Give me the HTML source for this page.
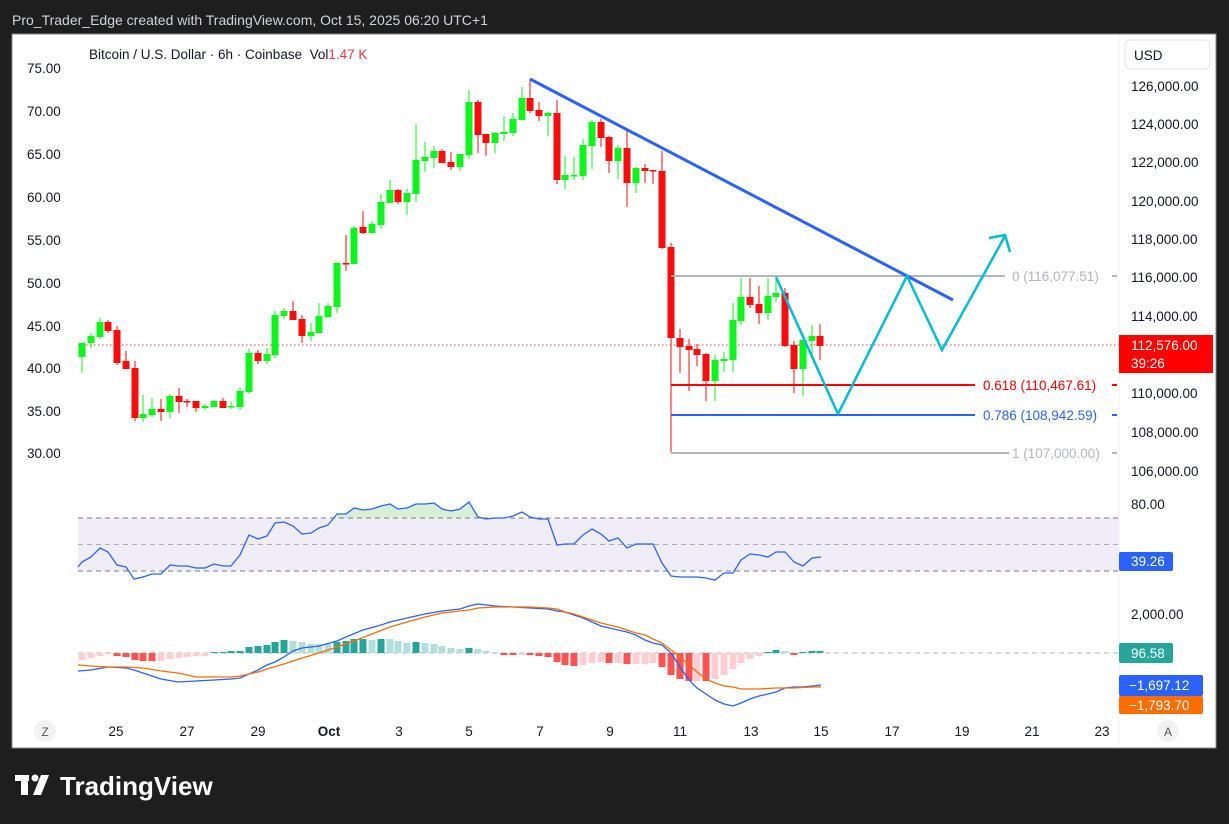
<!DOCTYPE html>
<html><head><meta charset="utf-8"><style>
html,body{margin:0;padding:0;background:#1e1e1e;}
svg{display:block;font-family:"Liberation Sans",sans-serif;}
</style></head><body>
<svg id="s" width="1229" height="824" xmlns="http://www.w3.org/2000/svg">
<rect width="1229" height="824" fill="#1e1e1e"/>
<text x="12" y="25" fill="#d1d4dc" font-size="14">Pro_Trader_Edge created with TradingView.com, Oct 15, 2025 06:20 UTC+1</text>
<rect x="12" y="34" width="1204" height="714" fill="#fff" stroke="#888" stroke-width="1"/>
<line x1="1119" y1="35" x2="1119" y2="747" stroke="#f0f0f0"/>
<text x="89" y="59" fill="#131722" font-size="13.5">Bitcoin / U.S. Dollar · 6h · Coinbase&#160;&#160;Vol<tspan fill="#f23645">1.47 K</tspan></text>
<rect x="1125" y="40" width="85" height="29" rx="5" fill="#fff" stroke="#e0e3eb"/>
<text x="1134" y="60" font-size="13.5" fill="#131722">USD</text>
<g font-size="13.5" fill="#131722">
<text x="27" y="73">75.00</text><text x="27" y="116">70.00</text><text x="27" y="159">65.00</text>
<text x="27" y="202">60.00</text><text x="27" y="245">55.00</text><text x="27" y="288">50.00</text>
<text x="27" y="331">45.00</text><text x="27" y="373">40.00</text><text x="27" y="416">35.00</text>
<text x="27" y="458">30.00</text>
<text x="1131" y="91">126,000.00</text><text x="1131" y="129">124,000.00</text><text x="1131" y="167">122,000.00</text>
<text x="1131" y="206">120,000.00</text><text x="1131" y="244">118,000.00</text><text x="1131" y="282">116,000.00</text>
<text x="1131" y="321">114,000.00</text><text x="1131" y="398">110,000.00</text><text x="1131" y="437">108,000.00</text>
<text x="1131" y="476">106,000.00</text>
<text x="1131" y="509">80.00</text>
<text x="1131" y="619">2,000.00</text>
</g>
<rect x="78" y="518" width="1041" height="53" fill="#ede9f7" opacity="0.85"/>
<polygon points="337,518 337,514 346,514 354,508 363,510 372,509 381,506 390,504 398,509 407,508 416,504 425,504 434,503 442,509 451,511 460,509 469,502 478,517 478,518" fill="#d6f0d6"/>
<line x1="78" y1="518" x2="1119" y2="518" stroke="#787b86" stroke-dasharray="5,4"/>
<line x1="78" y1="544.5" x2="1119" y2="544.5" stroke="#b0b0b8" stroke-dasharray="5,4"/>
<line x1="78" y1="571" x2="1119" y2="571" stroke="#787b86" stroke-dasharray="5,4"/>
<polyline fill="none" stroke="#2962ff" stroke-width="1.3" points="78,567 82,562 91,557 100,548 108,552 117,565 126,567 134,579 143,577 152,574 161,574 170,565 179,566 187,566 196,568 205,568 214,564 223,566 231,566 240,555 249,535 258,539 267,536 275,523 284,522 293,526 302,534 311,533 319,528 328,525 337,514 346,514 354,508 363,510 372,509 381,506 390,504 398,509 407,508 416,504 425,504 434,503 442,509 451,511 460,509 469,502 478,517 486,519 495,518 504,518 513,516 522,512 530,517 539,519 548,519 557,545 565,544 574,544 583,535 592,529 601,534 609,541 618,538 627,548 636,544 645,544 653,544 662,563 671,576 680,577 689,577 697,577 706,578 715,580 724,573 733,573 741,560 750,554 759,555 768,557 776,552 785,552 794,562 803,566 812,558 821,557"/>
<line x1="78" y1="653" x2="1119" y2="653" stroke="#b2b5be" stroke-dasharray="5,4"/>
<g id="hist"></g>
<polyline fill="none" stroke="#2962ff" stroke-width="1.3" points="78,671 91,670 108,667 126,668 134,670 143,673 161,679 178,682 196,681 214,680 231,679 240,678 249,674 258,670 267,665 275,662 284,657 293,651 302,648 319,646 337,641 346,637 363,630 381,625 390,622 407,618 425,614 442,611 460,609 469,606 478,604 495,606 513,607 530,608 548,609 557,611 565,612 574,615 583,618 592,622 601,626 618,630 627,632 636,635 645,640 653,643 662,645 671,653 680,667 689,680 697,688 706,694 715,700 724,704 733,706 741,703 750,699 759,696 768,694 776,692 785,688 794,687 803,687 812,686 821,685"/>
<polyline fill="none" stroke="#ff6d00" stroke-width="1.3" points="78,665 91,666 108,667 126,667 143,668 161,671 178,673 196,677 214,677 231,677 240,676 249,674 258,672 267,669 284,664 302,658 319,653 337,647 354,641 372,634 390,627 407,622 425,617 442,613 460,611 469,610 478,608 495,607 513,607 530,607 548,608 557,609 565,612 574,614 583,617 592,620 601,623 609,625 618,627 627,630 636,633 645,635 653,639 662,643 671,650 680,657 689,665 697,672 706,679 715,683 724,686 733,687 741,689 759,689 776,688 794,688 812,687 821,687"/>
<line x1="78" y1="345" x2="1119" y2="345" stroke="#f23645" stroke-dasharray="1.5,2.5"/>
<g id="candles"></g>
<line x1="671" y1="276" x2="1005" y2="276" stroke="#b2b5be" stroke-width="2"/>
<line x1="671" y1="385" x2="975" y2="385" stroke="#f00" stroke-width="2"/>
<line x1="671" y1="415" x2="975" y2="415" stroke="#2962ff" stroke-width="2"/>
<line x1="671" y1="453" x2="1005" y2="453" stroke="#b2b5be" stroke-width="2"/>
<g font-size="13.5">
<text x="1012" y="281" fill="#b2b5be">0 (116,077.51)</text><line x1="1112" y1="276" x2="1117" y2="276" stroke="#b2b5be" stroke-width="2"/>
<text x="983" y="390" fill="#f00">0.618 (110,467.61)</text><line x1="1112" y1="385" x2="1117" y2="385" stroke="#f00" stroke-width="2"/>
<text x="983" y="420" fill="#2962ff">0.786 (108,942.59)</text><line x1="1112" y1="415" x2="1117" y2="415" stroke="#2962ff" stroke-width="2"/>
<line x1="1004" y1="453" x2="1009" y2="453" stroke="#b2b5be" stroke-width="2"/>
<text x="1012" y="458" fill="#b2b5be">1 (107,000.00)</text><line x1="1112" y1="453" x2="1117" y2="453" stroke="#b2b5be" stroke-width="2"/>
</g>
<line x1="530" y1="79" x2="953" y2="300" stroke="#2962ff" stroke-width="3"/>
<polyline fill="none" stroke="#00bcd4" stroke-width="2.5" points="776,277 838,414 907,276 942,350 1005,236"/>
<polyline fill="none" stroke="#00bcd4" stroke-width="2.5" points="989,238 1005,235 1010,252"/>
<rect x="1119" y="335" width="94" height="38" fill="#f00"/>
<text x="1131" y="350" fill="#fff" font-size="13.5">112,576.00</text>
<text x="1131" y="368" fill="#fff" font-size="13.5">39:26</text>
<rect x="1119" y="552" width="54" height="19" rx="2" fill="#2962ff"/>
<text x="1131" y="566" fill="#fff" font-size="13.5">39.26</text>
<rect x="1119" y="643" width="54" height="20" rx="2" fill="#26a69a"/>
<text x="1131" y="658" fill="#fff" font-size="13.5">96.58</text>
<rect x="1119" y="675" width="84" height="21" rx="2" fill="#2962ff"/>
<text x="1129" y="690" fill="#fff" font-size="13.5">−1,697.12</text>
<rect x="1119" y="696" width="84" height="18" rx="2" fill="#ff6d00"/>
<text x="1129" y="710" fill="#fff" font-size="13.5">−1,793.70</text>
<g font-size="13.5" fill="#131722" text-anchor="middle">
<circle cx="45" cy="731" r="11" fill="#f2f2f2"/><text x="45" y="736" fill="#555" font-size="12">Z</text>
<text x="116" y="736">25</text><text x="187" y="736">27</text><text x="258" y="736">29</text>
<text x="329" y="736" font-weight="bold">Oct</text><text x="399" y="736">3</text><text x="469" y="736">5</text>
<text x="540" y="736">7</text><text x="610" y="736">9</text><text x="680" y="736">11</text>
<text x="751" y="736">13</text><text x="821" y="736">15</text><text x="892" y="736">17</text>
<text x="962" y="736">19</text><text x="1032" y="736">21</text><text x="1102" y="736">23</text>
<circle cx="1168" cy="731" r="11" fill="#f2f2f2"/><text x="1168" y="736" fill="#555" font-size="12">A</text>
</g>
<g fill="#fff">
<rect x="15" y="775" width="14" height="6"/><rect x="21" y="775" width="7" height="20"/>
<circle cx="35" cy="778" r="3.5"/>
<polygon points="41,775 49,775 41,795 33,795"/>
</g>
<text x="60" y="795" fill="#fff" font-size="26" font-weight="bold">TradingView</text>
</svg>
<script>
var C=[[82,343,357,343,373,1],[91,336,343,333,348,1],[100,322,337,318,339,1],[108,322,331,320,333,0],[117,330,363,326,365,0],[126,361,369,351,369,0],[135,368,418,361,421,0],[143,414,418,395,422,1],[152,409,415,398,417,1],[161,409,412,399,421,0],[170,396,412,394,418,1],[179,396,402,388,413,0],[187,401,402,399,407,0],[196,401,408,401,412,0],[205,406,408,404,410,1],[214,401,407,400,407,1],[223,401,408,398,408,0],[231,406,407,402,409,1],[240,391,407,387,410,1],[249,353,392,349,394,1],[258,353,361,350,364,0],[267,354,361,348,364,1],[275,315,355,311,358,1],[284,311,316,308,319,1],[293,311,320,301,320,0],[302,319,336,315,343,0],[311,332,336,323,341,1],[319,316,333,303,333,1],[328,306,317,303,318,1],[337,263,307,263,313,1],[346,263,264,235,271,0],[354,228,264,226,264,1],[363,227,233,211,234,0],[372,224,233,221,233,1],[381,202,225,194,229,1],[390,190,203,180,203,1],[398,190,202,189,204,0],[407,193,202,189,215,1],[416,160,194,124,202,1],[425,157,161,142,172,1],[434,151,158,146,168,1],[442,151,163,149,163,0],[451,162,167,152,170,0],[460,154,167,154,171,1],[469,102,155,90,159,1],[478,102,135,100,153,0],[486,134,143,134,156,0],[495,133,143,132,153,1],[504,132,134,116,141,1],[513,119,133,113,136,1],[522,98,120,87,120,1],[530,98,111,79,113,0],[539,110,116,102,121,0],[548,113,116,112,136,1],[557,113,180,100,184,0],[565,175,180,156,189,1],[574,175,176,157,180,1],[583,145,176,139,180,1],[592,122,146,120,169,1],[601,122,138,119,147,0],[609,137,161,136,173,0],[618,148,161,145,179,1],[627,148,183,129,207,0],[636,168,183,167,193,1],[645,168,171,164,183,0],[653,170,171,170,184,0],[662,171,248,151,249,0],[671,247,338,243,452,0],[680,338,347,329,373,0],[689,346,350,339,391,0],[697,349,355,344,366,0],[706,354,381,353,401,0],[715,360,381,355,401,1],[724,359,361,352,372,1],[733,320,360,303,372,1],[741,297,321,278,325,1],[750,297,305,278,308,0],[759,304,313,286,324,0],[768,296,313,278,320,1],[776,293,297,278,302,1],[785,293,346,288,347,0],[794,345,369,341,393,0],[803,340,369,333,396,1],[812,336,341,325,357,1],[820,336,346,324,360,0]];
var g=document.getElementById('candles'),h='';
C.forEach(function(c){var col=c[5]?'#0ef51e':'#f70d0d';h+='<line x1="'+c[0]+'" y1="'+c[3]+'" x2="'+c[0]+'" y2="'+c[4]+'" stroke="'+col+'" stroke-width="1"/>';var hh=Math.max(1.5,c[2]-c[1]);h+='<rect x="'+(c[0]-3.5)+'" y="'+c[1]+'" width="7" height="'+hh+'" fill="'+col+'"/>';});
g.innerHTML=h;
var H=[[82,660,'p'],[91,658,'p'],[100,656,'p'],[108,654,'p'],[117,656,'r'],[126,657,'r'],[135,660,'r'],[143,661,'r'],[152,661,'r'],[161,661,'p'],[170,659,'p'],[179,658,'p'],[187,657,'p'],[196,656,'p'],[205,656,'p'],[214,652,'t'],[223,652,'t'],[231,651,'t'],[240,651,'t'],[249,647,'t'],[258,646,'t'],[267,645,'t'],[275,642,'t'],[284,640,'t'],[293,641,'l'],[302,642,'l'],[311,644,'l'],[319,644,'l'],[328,644,'l'],[337,642,'t'],[346,641,'t'],[354,639,'t'],[363,639,'t'],[372,640,'l'],[381,639,'t'],[390,639,'l'],[398,641,'l'],[407,643,'l'],[416,642,'t'],[425,643,'l'],[434,644,'l'],[442,646,'l'],[451,648,'l'],[460,649,'l'],[469,648,'t'],[478,649,'l'],[486,651,'l'],[495,652,'l'],[504,655,'r'],[513,655,'r'],[522,655,'p'],[530,655,'r'],[539,656,'r'],[548,657,'r'],[557,662,'r'],[565,665,'r'],[574,666,'r'],[583,665,'p'],[592,663,'p'],[601,662,'p'],[609,663,'r'],[618,663,'p'],[627,664,'r'],[636,664,'p'],[645,664,'p'],[653,663,'p'],[662,667,'r'],[671,675,'r'],[680,679,'r'],[689,681,'r'],[697,681,'p'],[706,681,'r'],[715,679,'p'],[724,675,'p'],[733,669,'p'],[741,663,'p'],[750,659,'p'],[759,656,'p'],[768,652,'t'],[776,650,'t'],[785,651,'l'],[794,655,'r'],[803,652,'t'],[812,651,'t'],[820,651,'t']];
var cm={p:'#ffcdd2',r:'#ff5252',t:'#26a69a',l:'#b2dfdb'},s='';
H.forEach(function(b){var y1=Math.min(653,b[1]),y2=Math.max(653,b[1]);s+='<rect x="'+(b[0]-3.5)+'" y="'+y1+'" width="7" height="'+Math.max(1,y2-y1)+'" fill="'+cm[b[2]]+'"/>';});
document.getElementById('hist').innerHTML=s;
</script>
</body></html>
